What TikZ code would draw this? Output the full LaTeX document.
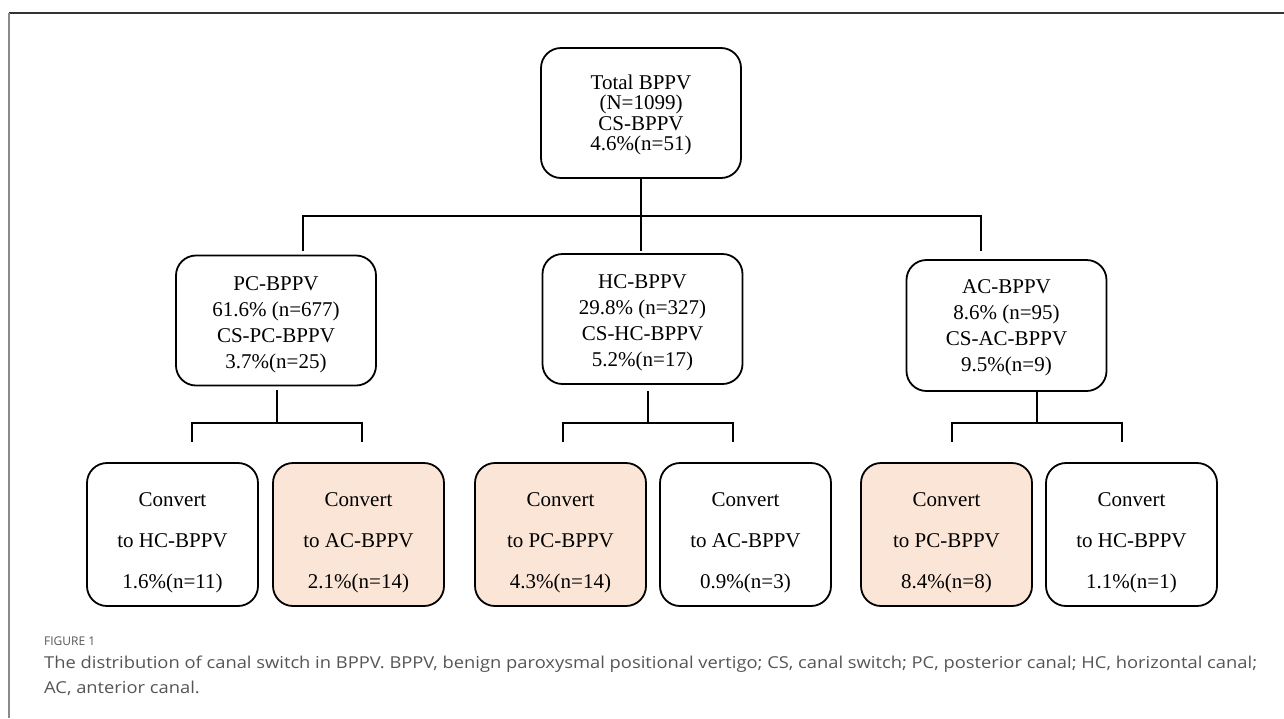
\documentclass[tikz,border=0pt]{standalone}
\usepackage{fontspec}
\setmainfont{Liberation Serif}
\newfontfamily\capfont{Open Sans}
\definecolor{peach}{HTML}{FBE5D6}
\definecolor{capgray}{HTML}{555555}
\definecolor{framedark}{HTML}{333333}
\definecolor{framelight}{HTML}{8A8A8A}
\newcommand{\capline}[1]{\scalebox{1.118}[1]{#1}}
\begin{document}
\begin{tikzpicture}[x=1pt,y=-1pt,
  box/.style={draw=black, line width=1.8pt, rounded corners=20pt, align=center, inner sep=0pt},
  topbox/.style={box, minimum width=200pt, minimum height=130pt, font=\fontsize{21}{20.5}\selectfont},
  midbox/.style={box, minimum width=200pt, minimum height=130pt, font=\fontsize{21}{26}\selectfont},
  convbox/.style={box, minimum width=171pt, minimum height=143pt, font=\fontsize{21}{41}\selectfont},
  hot/.style={fill=peach},
  link/.style={draw=black, line width=1.3pt}]
\useasboundingbox (0,0) rectangle (1284,718);
% frame
\draw[framedark, line width=2pt] (9,13) -- (1284,13);
\draw[framelight, line width=2pt] (9,13) -- (9,718);
% nodes
\node[topbox] (top) at (641,113) {\rule{0pt}{18pt}Total BPPV\\(N=1099)\\CS-BPPV\\4.6\%(n=51)};
\node[midbox] (pc) at (276,320.5) {\rule{0pt}{22pt}PC-BPPV\\61.6\% (n=677)\\CS-PC-BPPV\\3.7\%(n=25)};
\node[midbox] (hc) at (642.5,319) {\rule{0pt}{22pt}HC-BPPV\\29.8\% (n=327)\\CS-HC-BPPV\\5.2\%(n=17)};
\node[midbox, minimum height=131pt] (ac) at (1006.5,325.5) {\rule{0pt}{19pt}AC-BPPV\\8.6\% (n=95)\\CS-AC-BPPV\\9.5\%(n=9)};
\node[convbox] (c1) at (172.5,534.5) {\rule{0pt}{30pt}Convert\\to HC-BPPV\\1.6\%(n=11)};
\node[convbox, hot] (c2) at (358.5,534.5) {\rule{0pt}{30pt}Convert\\to AC-BPPV\\2.1\%(n=14)};
\node[convbox, hot] (c3) at (560.5,534.5) {\rule{0pt}{30pt}Convert\\to PC-BPPV\\4.3\%(n=14)};
\node[convbox] (c4) at (745.5,534.5) {\rule{0pt}{30pt}Convert\\to AC-BPPV\\0.9\%(n=3)};
\node[convbox, hot] (c5) at (946.5,534.5) {\rule{0pt}{30pt}Convert\\to PC-BPPV\\8.4\%(n=8)};
\node[convbox] (c6) at (1131.5,534.5) {\rule{0pt}{30pt}Convert\\to HC-BPPV\\1.1\%(n=1)};
% top tree
\coordinate (jl) at (303,216);
\coordinate (jr) at (981,216);
\coordinate (pcin) at (303,251);
\coordinate (acin) at (981,251);
\coordinate (hcin) at (641,251);
\draw[link] (top.south) -- (hcin);
\draw[link] (pcin) -- (jl) -- (jr) -- (acin);
% PC group
\coordinate (pco) at (277,390);
\coordinate (pcj) at (277,423);
\coordinate (pcl) at (192,423);
\coordinate (pcr) at (362,423);
\coordinate (pcld) at (192,442);
\coordinate (pcrd) at (362,442);
\draw[link] (pco) -- (pcj);
\draw[link] (pcld) -- (pcl) -- (pcr) -- (pcrd);
% HC group
\coordinate (hco) at (648,391);
\coordinate (hcj) at (648,423);
\coordinate (hcl) at (563,423);
\coordinate (hcr) at (733,423);
\coordinate (hcld) at (563,442);
\coordinate (hcrd) at (733,442);
\draw[link] (hco) -- (hcj);
\draw[link] (hcld) -- (hcl) -- (hcr) -- (hcrd);
% AC group
\coordinate (aco) at (1037,391);
\coordinate (acj) at (1037,423);
\coordinate (acl) at (952,423);
\coordinate (acr) at (1122,423);
\coordinate (acld) at (952,442);
\coordinate (acrd) at (1122,442);
\draw[link] (aco) -- (acj);
\draw[link] (acld) -- (acl) -- (acr) -- (acrd);
% caption
\node[anchor=base west, inner sep=0pt, text=capgray, font=\capfont\fontsize{12}{13}\selectfont] (figlabel) at (44,645) {FIGURE 1};
\node[anchor=base west, inner sep=0pt, align=left, text=capgray, font=\capfont\fontsize{16.4}{24.5}\selectfont] (caption) at (44,693)
  {\capline{The distribution of canal switch in BPPV. BPPV, benign paroxysmal positional vertigo; CS, canal switch; PC, posterior canal; HC, horizontal canal;}\\\capline{AC, anterior canal.}};
\end{tikzpicture}
\end{document}
